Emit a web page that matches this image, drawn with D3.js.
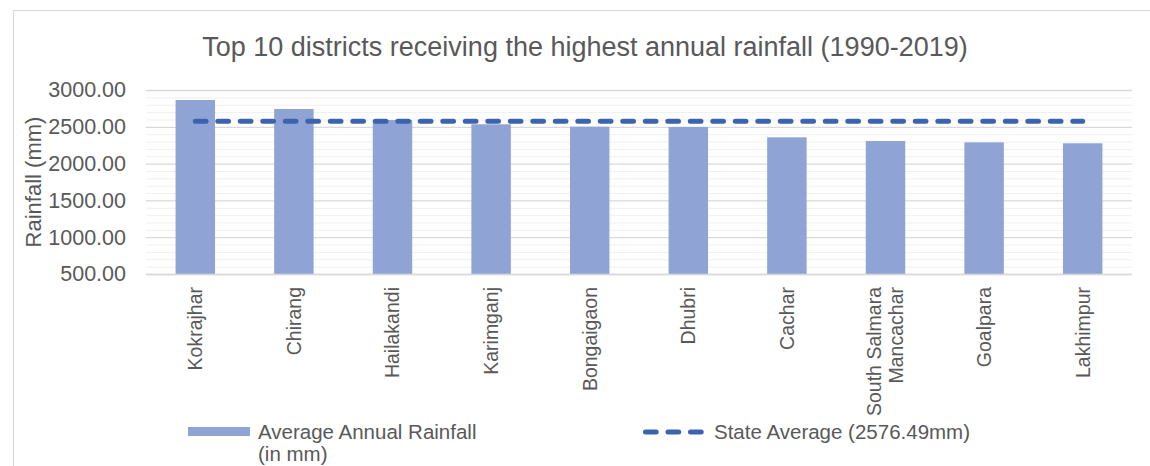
<!DOCTYPE html>
<html><head><meta charset="utf-8">
<script src="https://cdn.jsdelivr.net/npm/d3@7"></script>
<style>body{margin:0;background:#fff}svg{display:block;font-family:"Liberation Sans",Arial,sans-serif}</style>
</head><body>
<svg id="c" width="1150" height="466"></svg>
<script>
const districts = ["Kokrajhar","Chirang","Hailakandi","Karimganj","Bongaigaon","Dhubri","Cachar","South Salmara Mancachar","Goalpara","Lakhimpur"];
const rainfall = [2864, 2742, 2592, 2534, 2502, 2498, 2357, 2307, 2289, 2276];
const stateAverage = 2576.49;
const yTicks = [500, 1000, 1500, 2000, 2500, 3000];
const titleText = "Top 10 districts receiving the highest annual rainfall (1990-2019)";
const yLabel = "Rainfall (mm)";
const legendBar = ["Average Annual Rainfall", "(in mm)"];
const legendLine = "State Average (2576.49mm)";

const svg = d3.select("#c");
const textCol = "#595959", barCol = "#8FA3D4", lineCol = "#3B63AE";
const L = 146, R = 1132, T = 90, B = 274;

svg.append("rect").attr("x",13.5).attr("y",10.5).attr("width",1200).attr("height",600)
  .attr("fill","none").attr("stroke","#d9d9d9");

const x = d3.scaleBand().domain(districts).range([L,R]).paddingInner(0.6).paddingOuter(0.3);
const y = d3.scaleLinear().domain([500,3000]).range([B,T]);

// minor grid
const minor = d3.range(600,3000,100).filter(v=>v%500!==0);
svg.append("g").selectAll("line").data(minor).join("line")
  .attr("x1",L).attr("x2",R).attr("y1",d=>y(d)+0.5).attr("y2",d=>y(d)+0.5)
  .attr("stroke","#f0f0f0").attr("stroke-width",1);
// major grid via axis
const ga = svg.append("g").attr("transform",`translate(${L},0)`)
  .call(d3.axisLeft(y).tickValues(yTicks).tickSize(-(R-L)).tickFormat(d=>d3.format(".2f")(d)));
ga.select(".domain").remove();
ga.selectAll(".tick line").attr("stroke","#d9d9d9").attr("stroke-width",1.3);
ga.selectAll(".tick text").attr("x",-20).attr("fill",textCol).attr("font-size","21.5px")
  .attr("font-family","Liberation Sans, Arial, sans-serif");

// bars
svg.append("g").selectAll("rect").data(rainfall).join("rect")
  .attr("x",(d,i)=>x(districts[i])).attr("width",x.bandwidth())
  .attr("y",d=>y(d)).attr("height",d=>B-y(d)).attr("fill",barCol);

// baseline
svg.append("line").attr("x1",L).attr("x2",R).attr("y1",B+0.5).attr("y2",B+0.5).attr("stroke","#d9d9d9").attr("stroke-width",1.5);

// state average line
const cx = d=>x(d)+x.bandwidth()/2;
svg.append("path")
  .attr("d",d3.line()(districts.map(d=>[cx(d), y(stateAverage)])))
  .attr("stroke",lineCol).attr("stroke-width",5).attr("stroke-linecap","round")
  .attr("stroke-dasharray","10.7 11.8").attr("fill","none");

// x labels
const xl = svg.append("g");
districts.forEach(d=>{
  const words = d==="South Salmara Mancachar" ? ["South Salmara","Mancachar"] : [d];
  const n = words.length;
  words.forEach((w,k)=>{
    const off = (k-(n-1)/2)*22;
    xl.append("text").attr("transform",`translate(${cx(d)+off},287) rotate(-90)`)
      .attr("text-anchor","end").attr("dy","0.35em").attr("fill",textCol)
      .attr("font-size","19.5px").text(w);
  });
});

// y label
svg.append("text").attr("transform",`translate(33,${(T+B)/2}) rotate(-90)`)
  .attr("text-anchor","middle").attr("dy","0.35em").attr("fill",textCol).attr("font-size","22px").text(yLabel);

// title
svg.append("text").attr("x",585).attr("y",47).attr("text-anchor","middle").attr("dy","0.35em")
  .attr("fill",textCol).attr("font-size","27px").text(titleText);

// legend
svg.append("rect").attr("x",188).attr("y",427).attr("width",62).attr("height",9).attr("fill",barCol);
legendBar.forEach((t,i)=>{
  svg.append("text").attr("x",258).attr("y",432+i*22).attr("dy","0.35em").attr("fill",textCol)
    .attr("font-size","20.5px").text(t);
});
svg.append("line").attr("x1",645.5).attr("x2",703).attr("y1",432).attr("y2",432)
  .attr("stroke",lineCol).attr("stroke-width",5).attr("stroke-linecap","round").attr("stroke-dasharray","10.7 11.8");
svg.append("text").attr("x",714).attr("y",432).attr("dy","0.35em").attr("fill",textCol)
  .attr("font-size","20.5px").text(legendLine);
</script>
</body></html>
